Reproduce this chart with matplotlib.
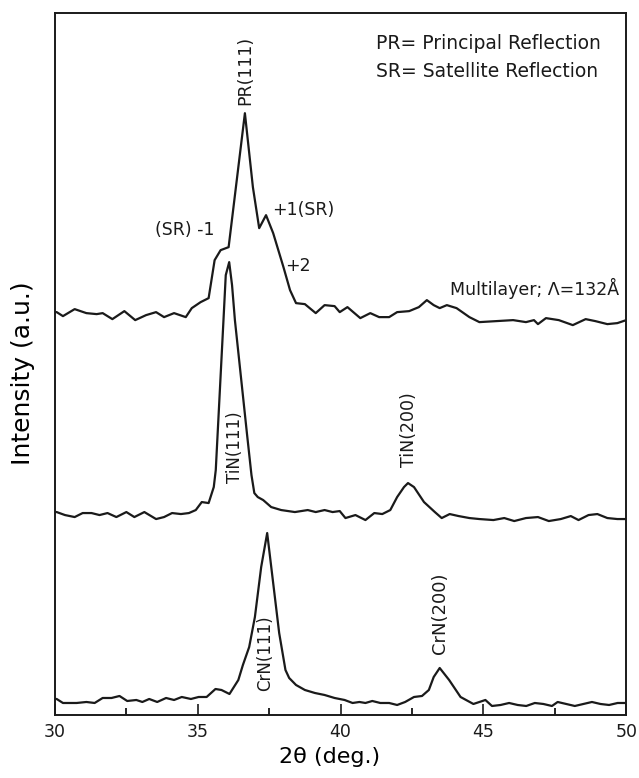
import matplotlib
matplotlib.use("Agg")
import matplotlib.pyplot as plt
import numpy as np

# 2-theta (deg) and intensity (a.u.)
ml_x = [30.0, 30.06, 30.28, 30.69, 31.1, 31.46, 31.67, 32.01, 32.43, 32.81, 33.19, 33.54,
        33.82, 34.17, 34.58, 34.79, 35.1, 35.38, 35.59, 35.8, 36.08, 36.65, 36.93, 37.15,
        37.39, 37.64, 38.0, 38.23, 38.44, 38.75, 39.13, 39.44, 39.79, 39.97, 40.24, 40.69,
        41.04, 41.35, 41.7, 41.98, 42.4, 42.74, 43.02, 43.26, 43.47, 43.72, 44.06, 44.51,
        44.86, 45.45, 46.04, 46.49, 46.77, 46.91, 47.19, 47.64, 48.13, 48.58, 48.92, 49.34,
        49.69, 50.0]
ml_y = [403, 403, 399, 406, 402, 401, 402, 396, 404, 395, 400, 403,
        398, 402, 398, 407, 413, 417, 455, 465, 468, 602, 528, 487,
        500, 482, 448, 425, 412, 411, 402, 410, 409, 403, 408, 397,
        402, 398, 398, 403, 404, 408, 415, 410, 407, 410, 407, 398,
        393, 394, 395, 393, 395, 391, 397, 395, 390, 396, 394, 391,
        392, 395]

tin_x = [30.0, 30.06, 30.35, 30.69, 30.97, 31.28, 31.56, 31.84, 32.15, 32.5, 32.78, 33.13,
         33.54, 33.82, 34.1, 34.41, 34.69, 34.93, 35.14, 35.38, 35.56, 35.63, 35.9, 35.98,
         36.1, 36.2, 36.3, 36.72, 36.88, 36.98, 37.1, 37.29, 37.57, 37.92, 38.4, 38.85,
         39.13, 39.44, 39.72, 39.97, 40.17, 40.52, 40.87, 41.18, 41.46, 41.74, 41.98, 42.22,
         42.36, 42.57, 42.92, 43.3, 43.54, 43.82, 44.13, 44.51, 44.86, 45.35, 45.73, 46.08,
         46.49, 46.91, 47.29, 47.71, 48.06, 48.33, 48.68, 48.99, 49.34, 49.69, 50.0]
tin_y = [203, 203, 200, 198, 202, 202, 200, 202, 198, 203, 198, 203,
         196, 198, 202, 201, 202, 205, 213, 212, 228, 245, 395, 440,
         453, 430, 395, 282, 240, 222, 218, 215, 208, 205, 203, 205,
         203, 205, 203, 204, 197, 200, 195, 202, 201, 205, 218, 228,
         232, 228, 213, 203, 197, 201, 199, 197, 196, 195, 197, 194,
         197, 198, 194, 196, 199, 195, 200, 201, 197, 196, 196]

crn_x = [30.0, 30.06, 30.28, 30.76, 31.1, 31.39, 31.67, 31.98, 32.26, 32.53, 32.85, 33.06,
         33.3, 33.58, 33.89, 34.17, 34.44, 34.76, 35.03, 35.31, 35.62, 35.83, 36.11, 36.42,
         36.58, 36.8, 37.0, 37.22, 37.43, 37.64, 37.85, 38.07, 38.2, 38.44, 38.75, 39.1,
         39.44, 39.79, 40.14, 40.42, 40.66, 40.87, 41.11, 41.39, 41.7, 41.98, 42.26, 42.57,
         42.85, 43.09, 43.26, 43.47, 43.8, 44.2, 44.65, 45.07, 45.3, 45.6, 45.9, 46.2,
         46.5, 46.8, 47.1, 47.4, 47.6, 47.9, 48.2, 48.5, 48.8, 49.1, 49.4, 49.7, 50.0]
crn_y = [16, 16, 12, 12, 13, 12, 17, 17, 19, 14, 15, 13,
         16, 13, 17, 15, 18, 16, 18, 18, 26, 25, 21, 35,
         50, 68, 98, 148, 182, 132, 82, 45, 37, 30, 25, 22,
         20, 17, 15, 12, 13, 12, 14, 12, 12, 10, 13, 18,
         19, 25, 38, 47, 35, 18, 11, 15, 9, 10, 12, 10,
         9, 12, 11, 9, 13, 11, 9, 11, 13, 11, 10, 12, 12]

major_ticks = [30, 35, 40, 45, 50]
minor_ticks = [32.5, 37.5, 42.5, 47.5]

fig = plt.figure(figsize=(6.39, 7.78), dpi=100)
ax = fig.add_axes([0.086, 0.081, 0.894, 0.902])

for xs, ys in [(ml_x, ml_y), (tin_x, tin_y), (crn_x, crn_y)]:
    ax.plot(xs, ys, color="#1a1a1a", linewidth=1.6, solid_joinstyle="round")

ax.set_xlim(30, 50)
ax.set_ylim(0, 702)
ax.set_xticks(major_ticks)
ax.set_xticks(minor_ticks, minor=True)
ax.set_yticks([])
ax.tick_params(axis="x", which="major", direction="in", length=8, width=1.2,
               labelsize=12.5, pad=6, colors="#1a1a1a")
ax.tick_params(axis="x", which="minor", direction="in", length=5, width=1.2)
for sp in ax.spines.values():
    sp.set_linewidth(1.4)
    sp.set_color("#1a1a1a")

ax.set_xlabel("2θ (deg.)", fontsize=16)
ax.xaxis.set_label_coords(0.48, -0.045)
ax.set_ylabel("Intensity (a.u.)", fontsize=18)
ax.yaxis.set_label_coords(-0.035, 0.487)

txt = dict(color="#1a1a1a")
ax.text(41.25, 672, "PR= Principal Reflection", fontsize=13.5, va="center", ha="left", **txt)
ax.text(41.25, 644, "SR= Satellite Reflection", fontsize=13.5, va="center", ha="left", **txt)
ax.text(36.65, 610, "PR(111)", fontsize=12.5, rotation=90, ha="center", va="bottom", **txt)
ax.text(35.6, 485, "(SR) -1", fontsize=12.5, ha="right", va="center", **txt)
ax.text(37.6, 505, "+1(SR)", fontsize=12.5, ha="left", va="center", **txt)
ax.text(38.06, 449, "+2", fontsize=12.5, ha="left", va="center", **txt)
ax.text(49.75, 427, "Multilayer; Λ=132Å", fontsize=12.5, ha="right", va="center", **txt)
ax.text(36.29, 268, "TiN(111)", fontsize=12, rotation=90, ha="center", va="center", **txt)
ax.text(42.38, 285, "TiN(200)", fontsize=12.5, rotation=90, ha="center", va="center", **txt)
ax.text(37.36, 62, "CrN(111)", fontsize=12, rotation=90, ha="center", va="center", **txt)
ax.text(43.48, 102, "CrN(200)", fontsize=13, rotation=90, ha="center", va="center", **txt)

fig.savefig("out.png", dpi=100)
